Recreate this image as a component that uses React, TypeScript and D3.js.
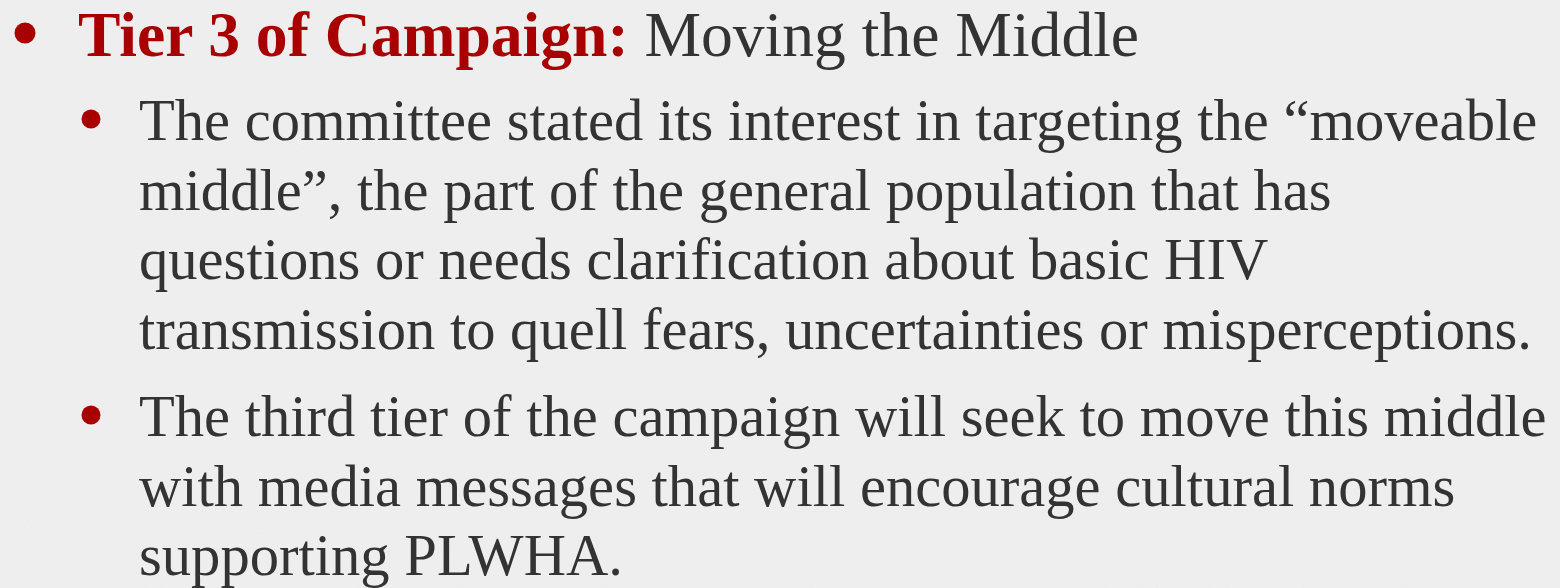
import React, { useEffect, useRef } from "react";
import * as d3 from "d3";

const titleBold = "Tier 3 of Campaign:";
const titleRest = " Moving the Middle";
const bullet1Lines = [
  "The committee stated its interest in targeting the \u201cmoveable",
  "middle\u201d, the part of the general population that has",
  "questions or needs clarification about basic HIV",
  "transmission to quell fears, uncertainties or misperceptions.",
];
const bullet2Lines = [
  "The third tier of the campaign will seek to move this middle",
  "with media messages that will encourage cultural norms",
  "supporting PLWHA.",
];

const W = 1560;
const H = 588;
const RED = "#a80000";
const TEXT = "#333333";
const FONT = "Liberation Serif, Times New Roman, Tinos, DejaVu Serif, serif";

export default function App() {
  const ref = useRef<SVGSVGElement | null>(null);

  useEffect(() => {
    document.body.style.margin = "0";
    const svg = d3.select(ref.current);
    svg.selectAll("*").remove();

    const defs = svg.append("defs");
    const f = defs.append("filter").attr("id", "paper").attr("x", 0).attr("y", 0).attr("width", "100%").attr("height", "100%");
    f.append("feTurbulence").attr("type", "fractalNoise").attr("baseFrequency", 0.9).attr("numOctaves", 2).attr("seed", 3).attr("result", "noise");
    f.append("feColorMatrix").attr("type", "matrix")
      .attr("values", "0 0 0 0 0.5  0 0 0 0 0.5  0 0 0 0 0.5  0 0 0 0.08 0");

    svg.append("rect").attr("width", W).attr("height", H).attr("fill", "#f0f0f0");
    svg.append("rect").attr("width", W).attr("height", H).attr("filter", "url(#paper)");

    // title line
    svg.append("circle").attr("cx", 25).attr("cy", 33).attr("r", 10.5).attr("fill", RED);
    const t = svg.append("text").attr("x", 78).attr("y", 56)
      .style("font-family", FONT).style("font-size", "63.6px");
    t.append("tspan").style("font-weight", "bold").attr("fill", RED).text(titleBold);
    t.append("tspan").attr("fill", TEXT).text(titleRest);

    const lineY1 = d3.scaleLinear().domain([0, 1]).range([140, 209.7]);
    const lineY2 = d3.scaleLinear().domain([0, 1]).range([436, 505.7]);

    const drawBlock = (lines: string[], y: d3.ScaleLinear<number, number>) => {
      svg.append("circle").attr("cx", 91).attr("cy", y(0) - 21).attr("r", 9.5).attr("fill", RED);
      svg.append("g").selectAll("text").data(lines).join("text")
        .attr("x", 139)
        .attr("y", (_d, i) => y(i))
        .style("font-family", FONT)
        .style("font-size", "58.6px")
        .attr("fill", TEXT)
        .text((d) => d);
    };
    drawBlock(bullet1Lines, lineY1);
    drawBlock(bullet2Lines, lineY2);
  }, []);

  return (
    <svg ref={ref} width={W} height={H} style={{ position: "absolute", left: 0, top: 0, display: "block" }} />
  );
}
